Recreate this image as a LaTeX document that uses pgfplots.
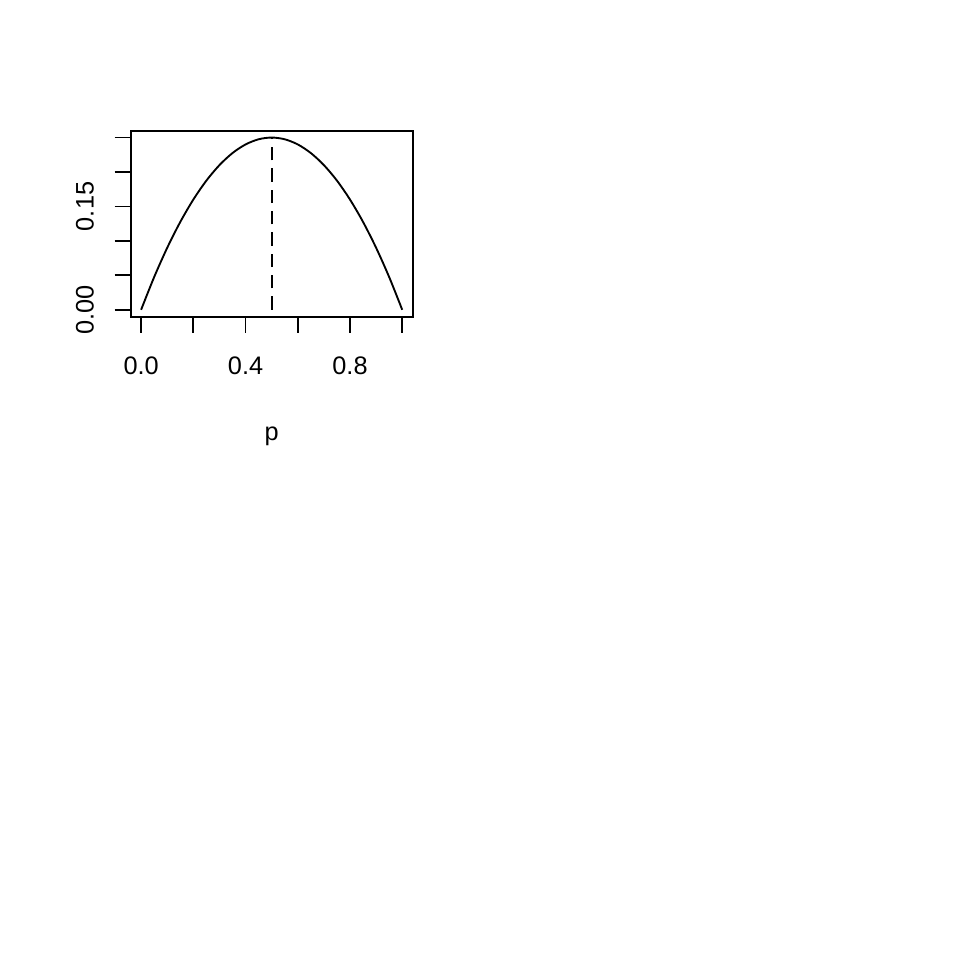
\documentclass[border=0pt]{standalone}
\usepackage{pgfplots}
\pgfplotsset{compat=1.18}
\usepackage{fontspec}
\setmainfont{Liberation Sans}
\begin{document}
\fontsize{19}{23}\selectfont
\begin{tikzpicture}
\path (0,0) rectangle (720pt,720pt);
\begin{axis}[
  at={(98pt,482.5pt)}, anchor=south west,
  scale only axis, width=211.5pt, height=139.5pt,
  xmin=-0.04, xmax=1.04, ymin=-0.01, ymax=0.26,
  axis line style={line width=1.4pt},
  every tick/.style={black, line width=1.4pt},
  tick align=outside, major tick length=12pt,
  xtick pos=bottom, ytick pos=left,
  xtick={0,0.2,0.4,0.6,0.8,1.0},
  xticklabels={0.0,,0.4,,0.8,},
  ytick={0,0.05,0.10,0.15,0.20,0.25},
  yticklabels={0.00,,,0.15,,},
  xticklabel style={anchor=base, inner sep=0pt, yshift=-31.5pt, font=\fontsize{19}{23}\selectfont},
  yticklabel style={xshift=-15.75pt, rotate=90, anchor=base, inner sep=0pt, font=\fontsize{19}{23}\selectfont},
  xlabel={p},
  xlabel style={at={(axis description cs:0.5,0)}, anchor=base, inner sep=0pt, yshift=-93pt, font=\fontsize{19}{23}\selectfont},
  clip=false,
]
\addplot[black, line width=1.4pt, smooth] coordinates {
(0,0) (0.05,0.0475) (0.1,0.09) (0.15,0.1275) (0.2,0.16) (0.25,0.1875)
(0.3,0.21) (0.35,0.2275) (0.4,0.24) (0.45,0.2475) (0.5,0.25)
(0.55,0.2475) (0.6,0.24) (0.65,0.2275) (0.7,0.21) (0.75,0.1875)
(0.8,0.16) (0.85,0.1275) (0.9,0.09) (0.95,0.0475) (1,0)
};
\addplot[black, line width=1.4pt, dash pattern=on 10pt off 6pt] coordinates {(0.5,0) (0.5,0.25)};
\end{axis}
\end{tikzpicture}
\end{document}
